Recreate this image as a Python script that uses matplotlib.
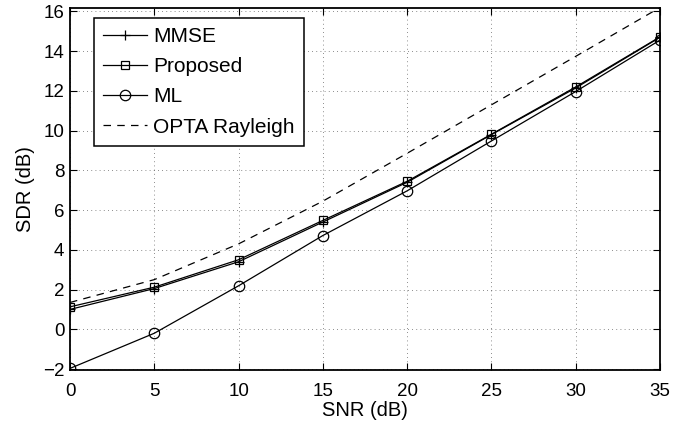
import matplotlib
matplotlib.use("Agg")
import matplotlib.pyplot as plt

plt.rcParams['font.family'] = ['Liberation Sans', 'DejaVu Sans']

# SNR points (dB)
snr = [0, 5, 10, 15, 20, 25, 30, 35]

# SDR curves (dB)
sdr_mmse = [1.0, 2.05, 3.4, 5.4, 7.4, 9.8, 12.15, 14.7]
sdr_proposed = [1.13, 2.12, 3.5, 5.48, 7.45, 9.82, 12.2, 14.72]
sdr_ml = [-1.97, -0.2, 2.19, 4.72, 6.97, 9.48, 11.97, 14.56]
sdr_opta = [1.35, 2.5, 4.3, 6.45, 8.86, 11.3, 13.74, 16.2]

fig = plt.figure(figsize=(6.97, 4.28), dpi=100)
# axes box in pixels: left 70, right 660, top 7.5, bottom 370
ax = fig.add_axes([70/697, 1 - 370/428, 590/697, 362.5/428])

ax.plot(snr, sdr_mmse, color='black', lw=0.9, marker='+', ms=7.5, mew=0.9, label='MMSE')
ax.plot(snr, sdr_proposed, color='black', lw=0.9, marker='s', ms=5.5, mfc='none', mew=0.9, label='Proposed')
ax.plot(snr, sdr_ml, color='black', lw=0.9, marker='o', ms=7.5, mfc='none', mew=0.9, label='ML')
ax.plot(snr, sdr_opta, color='black', lw=0.9, ls=(0, (6, 5)), label='OPTA Rayleigh')

ax.set_xlim(0, 35)
ax.set_ylim(-2.05, 16.2)
ax.set_xticks(range(0, 36, 5))
ax.set_yticks(range(-2, 17, 2))
ax.grid(True, ls=(0, (1, 4)), color='black', lw=0.6, alpha=0.6)
ax.tick_params(direction='in', top=True, right=True, labelsize=13.5, length=5, width=0.8)
ax.tick_params(axis='x', pad=9)
ax.tick_params(axis='y', pad=4)
for s in ax.spines.values():
    s.set_linewidth(1.3)

ax.set_xlabel('SNR (dB)', fontsize=14.5, labelpad=1)
ax.set_ylabel('SDR (dB)', fontsize=14.5, labelpad=6)

leg = ax.legend(loc='upper left', bbox_to_anchor=(24/590, 1 - 10/362.5), borderaxespad=0,
                fontsize=15, fancybox=False, framealpha=1, edgecolor='black',
                handlelength=2.1, handletextpad=0.3, borderpad=0.45, labelspacing=0.54)
leg.get_frame().set_linewidth(1.1)

fig.savefig('out.png', dpi=100)
